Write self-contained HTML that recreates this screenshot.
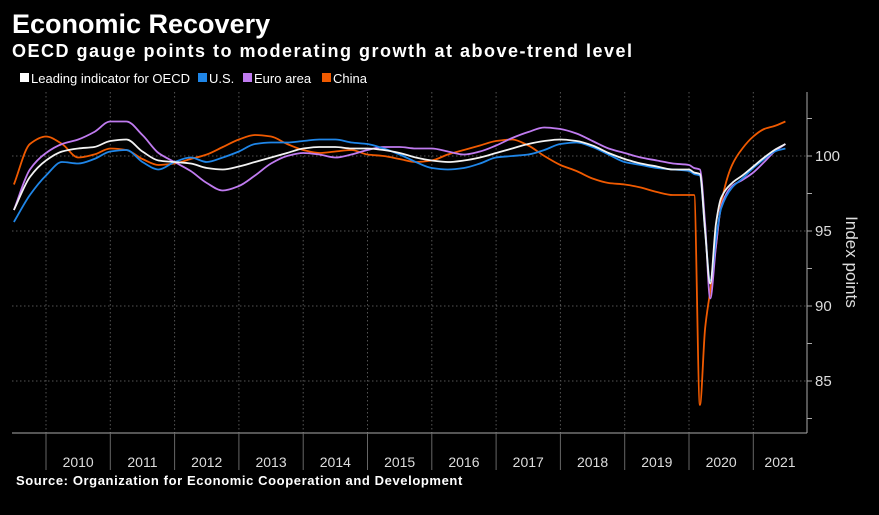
<!DOCTYPE html>
<html><head><meta charset="utf-8"><style>
body{margin:0;background:#000;width:879px;height:515px;overflow:hidden;font-family:"Liberation Sans",sans-serif}
svg{display:block}
</style></head><body>
<svg id="chart" width="879" height="515" viewBox="0 0 879 515">
<rect width="879" height="515" fill="#000"/>
<text x="12" y="33" fill="#fff" font-size="27" font-weight="bold">Economic Recovery</text>
<text x="12" y="57" fill="#fff" font-size="18" font-weight="bold" letter-spacing="1.5">OECD gauge points to moderating growth at above-trend level</text>
<g font-size="13" fill="#fff">
<g><rect x="20" y="73" width="9" height="9" fill="#fff"/><text x="31" y="83">Leading indicator for OECD</text></g>
<g><rect x="198" y="73" width="9" height="9" fill="#1f86e8"/><text x="209" y="83">U.S.</text></g>
<g><rect x="243" y="73" width="9" height="9" fill="#c07bf0"/><text x="254" y="83">Euro area</text></g>
<g><rect x="322" y="73" width="9" height="9" fill="#f05a00"/><text x="333" y="83">China</text></g>
</g>
<g id="grid"></g>
<g id="axes"></g>
<g id="series"></g>
<text transform="translate(846,262) rotate(90)" text-anchor="middle" fill="#ddd" font-size="17">Index points</text>
<text x="16" y="485" fill="#fff" font-size="13" font-weight="bold" letter-spacing="0.6">Source: Organization for Economic Cooperation and Development</text>
</svg>
<script>
const times=[2009.5,2009.75,2010.0,2010.25,2010.5,2010.75,2011.0,2011.25,2011.5,2011.75,2012.0,2012.25,2012.5,2012.75,2013.0,2013.25,2013.5,2013.75,2014.0,2014.25,2014.5,2014.75,2015.0,2015.25,2015.5,2015.75,2016.0,2016.25,2016.5,2016.75,2017.0,2017.25,2017.5,2017.75,2018.0,2018.25,2018.5,2018.75,2019.0,2019.25,2019.5,2019.75,2020.0,2020.08,2020.17,2020.25,2020.33,2020.42,2020.5,2020.67,2020.83,2021.0,2021.17,2021.33,2021.5];
const oecd=[96.4,98.6,99.7,100.3,100.5,100.6,101.0,101.1,100.3,99.7,99.6,99.5,99.2,99.1,99.3,99.6,99.9,100.2,100.5,100.6,100.6,100.5,100.5,100.4,100.2,99.9,99.7,99.6,99.7,99.9,100.2,100.5,100.8,101.0,101.1,101.0,100.7,100.2,99.8,99.5,99.3,99.1,99.1,98.9,98.8,95.0,91.5,95.5,97.2,98.2,98.7,99.3,99.9,100.4,100.8];
const us=[95.6,97.4,98.7,99.6,99.5,99.8,100.3,100.4,99.6,99.1,99.6,99.9,99.6,99.9,100.3,100.8,100.9,100.9,101.0,101.1,101.1,100.9,100.8,100.5,100.1,99.6,99.2,99.1,99.2,99.5,99.9,100.0,100.1,100.4,100.8,100.9,100.6,100.1,99.6,99.4,99.2,99.1,99.0,98.8,98.7,95.0,91.7,94.5,96.5,97.9,98.5,99.2,99.8,100.3,100.5];
const euro=[96.4,99.1,100.2,100.8,101.1,101.6,102.3,102.3,101.4,100.2,99.6,99.0,98.2,97.7,98.0,98.7,99.5,100.0,100.2,100.1,99.9,100.1,100.4,100.6,100.6,100.5,100.5,100.3,100.1,100.3,100.7,101.2,101.6,101.9,101.8,101.5,101.0,100.5,100.2,99.9,99.7,99.5,99.4,99.2,99.1,95.5,90.5,94.0,96.6,98.0,98.4,98.9,99.6,100.3,100.8];
const china=[98.1,100.8,101.3,100.8,99.9,100.1,100.5,100.4,99.8,99.4,99.5,99.8,100.1,100.6,101.1,101.4,101.3,100.8,100.4,100.2,100.3,100.4,100.1,100.0,99.8,99.6,99.7,100.1,100.4,100.7,101.0,101.1,100.7,100.0,99.4,99.0,98.5,98.2,98.1,97.9,97.6,97.4,97.4,97.4,83.4,88.5,91.0,94.0,96.8,99.4,100.5,101.3,101.8,102.0,102.3];
const yTicks=[85,90,95,100];
const yearLabels=["2010","2011","2012","2013","2014","2015","2016","2017","2018","2019","2020","2021"];
const NS="http://www.w3.org/2000/svg";
const X0=12,X1=807,Y0=92,Y1=433;
function xScale(t){return 46+(t-2010)*64.3;}
function yScale(v){return 156-(v-100)*15;}
function mk(tag,attrs,parent){const e=document.createElementNS(NS,tag);for(const k in attrs)e.setAttribute(k,attrs[k]);parent.appendChild(e);return e;}
function monotonePath(xs,ys){
  const n=xs.length,d=[],m=new Array(n);
  for(let i=0;i<n-1;i++)d.push((ys[i+1]-ys[i])/(xs[i+1]-xs[i]));
  m[0]=d[0];m[n-1]=d[n-2];
  for(let i=1;i<n-1;i++){
    if(d[i-1]*d[i]<=0)m[i]=0;
    else{const w1=2*(xs[i+1]-xs[i])+(xs[i]-xs[i-1]),w2=(xs[i+1]-xs[i])+2*(xs[i]-xs[i-1]);m[i]=(w1+w2)/(w1/d[i-1]+w2/d[i]);}
  }
  let p='M'+xs[0].toFixed(1)+','+ys[0].toFixed(1);
  for(let i=0;i<n-1;i++){
    const h=(xs[i+1]-xs[i])/3;
    p+='C'+(xs[i]+h).toFixed(1)+','+(ys[i]+m[i]*h).toFixed(1)+' '+(xs[i+1]-h).toFixed(1)+','+(ys[i+1]-m[i+1]*h).toFixed(1)+' '+xs[i+1].toFixed(1)+','+ys[i+1].toFixed(1);
  }
  return p;
}
const grid=document.getElementById('grid'),axes=document.getElementById('axes'),ser=document.getElementById('series');
yTicks.forEach(v=>{
  const l=mk('line',{x1:X0,x2:X1,y1:yScale(v),y2:yScale(v),stroke:'#555','stroke-dasharray':'1.5,2.5'},grid);
  
  
  const t=mk('text',{x:X1+8,y:yScale(v)+5,fill:'#ddd','font-size':15},axes);
  t.textContent=v;
  
  
});
for(let v=82.5;v<=104;v+=2.5){mk('line',{x1:X1,x2:X1+5,y1:yScale(v),y2:yScale(v),stroke:'#aaa'},axes);}
mk('line',{x1:X1,x2:X1,y1:Y0,y2:Y1,stroke:'#aaa'},axes);
mk('line',{x1:X0,x2:X1,y1:Y1,y2:Y1,stroke:'#aaa'},axes);
yearLabels.forEach((y,i)=>{
  const yr=2010+i,x=xScale(yr);
  const g=mk('line',{x1:x,x2:x,y1:Y0,y2:Y1,stroke:'#555','stroke-dasharray':'1.5,2.5'},grid);
  
  
  mk('line',{x1:x,x2:x,y1:Y1,y2:470,stroke:'#666'},axes);
  const t=mk('text',{x:Math.min(xScale(yr+0.5),780),y:467,fill:'#ddd','font-size':14,'text-anchor':'middle'},axes);
  t.textContent=y;
  
  
});
[[china,'#f05a00','line-china'],[euro,'#c07bf0','line-euro-area'],[us,'#1f86e8','line-us'],[oecd,'#f2f2f2','line-oecd']].forEach(([vals,c,n])=>{
  const d=monotonePath(times.map(xScale),vals.map(yScale));
  const p=mk('path',{d:d,fill:'none',stroke:c,'stroke-width':1.8,'stroke-linejoin':'round'},ser);
  
  
});
</script>
</body></html>
